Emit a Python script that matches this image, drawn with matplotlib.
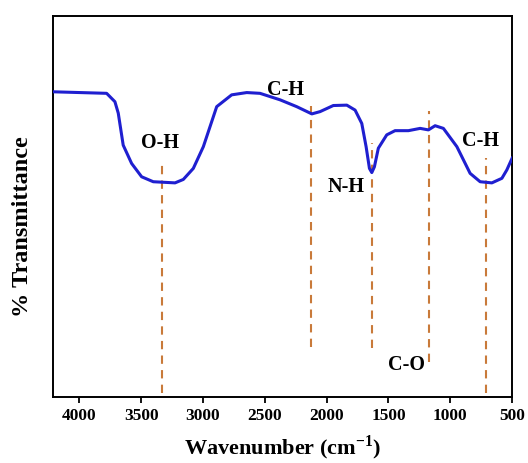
import numpy as np
import matplotlib
matplotlib.use("Agg")
import matplotlib.pyplot as plt

plt.rcParams['font.family'] = ['Liberation Serif', 'DejaVu Serif']
plt.rcParams['font.weight'] = 'bold'
plt.rcParams['mathtext.fontset'] = 'custom'
plt.rcParams['mathtext.rm'] = 'Liberation Serif:bold'
plt.rcParams['mathtext.bf'] = 'Liberation Serif:bold'

# FTIR spectrum
wavenumber = [4210, 3779, 3712, 3685, 3645, 3577, 3496, 3402, 3226, 3159,
              3078, 2997, 2889, 2768, 2646, 2539, 2377, 2242, 2120, 2053,
              1946, 1837, 1770, 1716, 1681, 1654, 1635, 1614, 1582, 1514,
              1447, 1339, 1244, 1177, 1123, 1056, 947, 840, 759, 664,
              583, 543, 500]
transmittance = [80.1, 79.7, 77.5, 74.5, 66.1, 61.3, 57.8, 56.5, 56.2, 57.1,
                 60.0, 65.7, 76.2, 79.3, 79.9, 79.7, 78.0, 76.2, 74.3, 74.9,
                 76.5, 76.6, 75.3, 71.8, 65.7, 60.0, 58.9, 60.4, 65.3, 68.8,
                 69.9, 69.9, 70.5, 70.1, 71.2, 70.5, 65.7, 58.7, 56.5, 56.2,
                 57.4, 59.6, 62.7]

# band markers: position, dashed line top / bottom, label and label position
band_pos = [3335, 2123, 1633, 1175, 711]
band_top = [62.2, 76.4, 66.7, 75.1, 62.7]
band_bottom = [1.0, 13.1, 12.9, 9.2, 1.0]
band_labels = ['O-H', 'C-H', 'N-H', 'C-O', 'C-H']
label_x = [3347, 2332, 1843, 1352, 760]
label_y = [66.7, 80.6, 55.0, 8.4, 67.1]

xticks = [4000, 3500, 3000, 2500, 2000, 1500, 1000, 500]

fig = plt.figure(figsize=(5.28, 4.63), dpi=100)
ax = fig.add_axes([0.101, 0.1425, 0.869, 0.823])

ax.plot(wavenumber, transmittance, color='#1f1fd0', linewidth=2.2, zorder=3,
        solid_joinstyle='round')

for x, y0, y1 in zip(band_pos, band_bottom, band_top):
    ax.plot([x, x], [y0, y1], color='#c97a3a', linestyle=(0, (4, 3)),
            linewidth=1.5, zorder=2)

for lab, x, y in zip(band_labels, label_x, label_y):
    ax.text(x, y, lab, ha='center', va='center', fontsize=14.5,
            fontweight='bold')

ax.set_xlim(4210, 500)
ax.set_ylim(0, 100)
ax.set_xticks(xticks)
ax.set_yticks([])
ax.tick_params(axis='x', direction='out', length=4, width=1.3,
               labelsize=12.5, pad=4)
for lbl in ax.get_xticklabels():
    lbl.set_fontweight('bold')
for sp in ax.spines.values():
    sp.set_linewidth(1.4)

ax.set_xlabel(r'Wavenumber (cm$^{-1}$)', fontsize=16, fontweight='bold',
              labelpad=7)
ax.set_ylabel('% Transmittance', fontsize=17.5, fontweight='bold')
ax.yaxis.set_label_coords(-0.045, 0.446)

fig.savefig('out.png', dpi=100)
